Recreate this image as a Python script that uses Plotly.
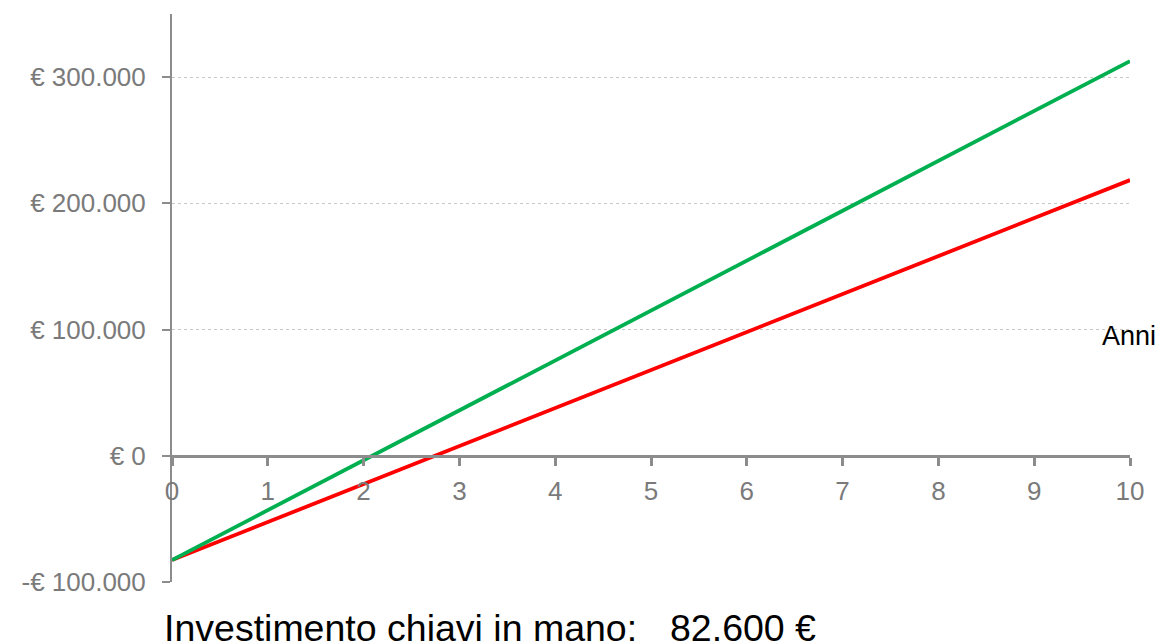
import plotly.graph_objects as go

anni = [0, 1, 2, 3, 4, 5, 6, 7, 8, 9, 10]
scenario_verde = [-82600, -43070, -3540, 35990, 75520, 115050, 154580, 194110, 233640, 273170, 312700]
scenario_rosso = [-82600, -52500, -22400, 7700, 37800, 67900, 98000, 128100, 158200, 188300, 218400]
y_tick_vals = [-100000, 0, 100000, 200000, 300000]
y_tick_text = ["-€ 100.000", "€ 0", "€ 100.000", "€ 200.000", "€ 300.000"]
x_tick_vals = [0, 1, 2, 3, 4, 5, 6, 7, 8, 9, 10]
x_tick_text = ["0", "1", "2", "3", "4", "5", "6", "7", "8", "9", "10"]

FONT = "Liberation Sans, Arial, sans-serif"
GRAY = "#7a7a7a"

fig = go.Figure()
fig.add_trace(go.Scatter(x=anni, y=scenario_rosso, mode="lines",
                         line=dict(color="#ff0000", width=3.8), showlegend=False))
fig.add_trace(go.Scatter(x=anni, y=scenario_verde, mode="lines",
                         line=dict(color="#00b050", width=3.8), showlegend=False))

ymin, ymax = -100000, 350000
fig.update_layout(
    width=1164, height=644,
    margin=dict(l=172, r=34, t=14, b=62),
    plot_bgcolor="white", paper_bgcolor="white",
    font=dict(family=FONT, color=GRAY, size=26),
    xaxis=dict(range=[0, 10], tickvals=x_tick_vals, ticktext=x_tick_text,
               showgrid=False, zeroline=False,
               showline=True, linecolor="#8c8c8c", linewidth=2.5,
               ticks="outside", ticklen=8, tickwidth=2.5, tickcolor="#8c8c8c",
               anchor="free", position=(0 - ymin) / (ymax - ymin),
               ticklabelstandoff=3,
               tickfont=dict(family=FONT, size=26, color=GRAY)),
    yaxis=dict(range=[ymin, ymax], tickvals=y_tick_vals, ticktext=y_tick_text,
               showgrid=True, gridcolor="#c8c8c8", griddash="dot", gridwidth=1,
               zeroline=False,
               showline=True, linecolor="#8c8c8c", linewidth=2,
               ticks="outside", ticklen=8, tickwidth=2, tickcolor="#8c8c8c",
               ticklabelstandoff=11,
               tickfont=dict(family=FONT, size=26, color=GRAY)),
)

fig.add_annotation(text="Anni", xref="paper", yref="y", x=(1100 - 172) / 958, y=95000,
                   xanchor="left", yanchor="middle", showarrow=False,
                   font=dict(family=FONT, size=27, color="black"))
fig.add_annotation(text="Investimento chiavi in mano:", xref="paper", yref="paper",
                   x=(162 - 172) / 958, y=(582 - 628) / 568, xanchor="left", yanchor="middle",
                   showarrow=False, font=dict(family=FONT, size=37.5, color="black"))
fig.add_annotation(text="82.600 €", xref="paper", yref="paper",
                   x=(668 - 172) / 958, y=(582 - 628) / 568, xanchor="left", yanchor="middle",
                   showarrow=False, font=dict(family=FONT, size=37.5, color="black"))

fig.write_html("out.html")
